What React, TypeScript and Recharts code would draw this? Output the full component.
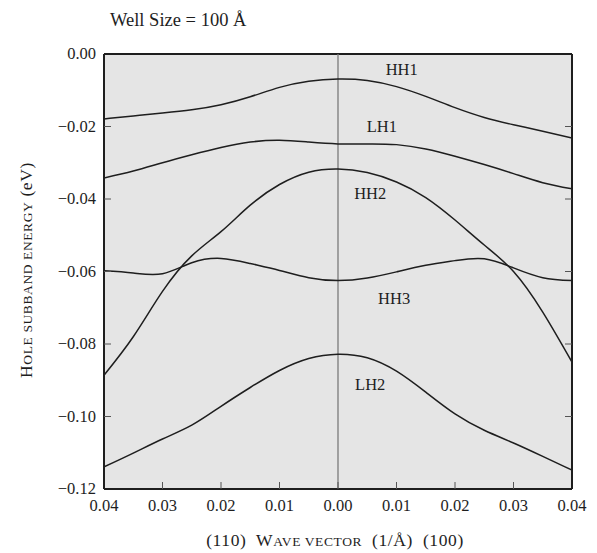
import React from 'react';
import { LineChart, Line, XAxis, YAxis, CartesianGrid, ReferenceLine, ReferenceDot } from 'recharts';

// Wave vector grid (1/Å); negative side = (110) direction, positive side = (100) direction
const kValues = [-0.04, -0.035, -0.03, -0.025, -0.02, -0.015, -0.01, -0.005, 0, 0.005, 0.01, 0.015, 0.02, 0.025, 0.03, 0.035, 0.04];

// Hole subband energies (eV)
const hh1 = [-0.0179, -0.0171, -0.0163, -0.0154, -0.0140, -0.0118, -0.0092, -0.0075, -0.0069, -0.0073, -0.0090, -0.0117, -0.0148, -0.0175, -0.0195, -0.0213, -0.0232];
const lh1 = [-0.0342, -0.0323, -0.0300, -0.0278, -0.0258, -0.0243, -0.0238, -0.0243, -0.0248, -0.0248, -0.0250, -0.0262, -0.0282, -0.0305, -0.0330, -0.0355, -0.0372];
const hh2 = [-0.0886, -0.0780, -0.0655, -0.0557, -0.0490, -0.0417, -0.0360, -0.0326, -0.0317, -0.0327, -0.0353, -0.0396, -0.0458, -0.0527, -0.0600, -0.0712, -0.0850];
const hh3 = [-0.0598, -0.0604, -0.0606, -0.0576, -0.0564, -0.0578, -0.0597, -0.0617, -0.0625, -0.0618, -0.0601, -0.0583, -0.0570, -0.0565, -0.0590, -0.0617, -0.0625];
const lh2 = [-0.1139, -0.1101, -0.1062, -0.1024, -0.0972, -0.0920, -0.0873, -0.0840, -0.0828, -0.0838, -0.0875, -0.0933, -0.0993, -0.1038, -0.1073, -0.1110, -0.1148];

const seriesNames = ['HH1', 'LH1', 'HH2', 'HH3', 'LH2'];
const seriesValues = [hh1, lh1, hh2, hh3, lh2];

// Curve label anchors (k, E)
const labelK = [0.0109, 0.0075, 0.0055, 0.0096, 0.0055];
const labelE = [-0.0041, -0.0199, -0.0383, -0.0673, -0.091];

const xTicks = [-0.04, -0.03, -0.02, -0.01, 0, 0.01, 0.02, 0.03, 0.04];
const yTicks = [-0.12, -0.1, -0.08, -0.06, -0.04, -0.02, 0];

const rows = kValues.map((k, i) => {
  const r: Record<string, number> = { k };
  seriesNames.forEach((n, j) => { r[n] = seriesValues[j][i]; });
  return r;
});

const FONT = "'Liberation Serif', 'Times New Roman', serif";
const INK = '#1e1e1e';

const fmtY = (v: number) => (v === 0 ? '0.00' : '\u2212' + Math.abs(v).toFixed(2));
const fmtX = (v: number) => Math.abs(v).toFixed(2);

const LeftTick = (props: any) => {
  const { x, y, payload } = props;
  const v = payload.value;
  return (
    <g>
      <text x={x} y={y} dy={5} textAnchor="end" fontSize={16.5} fontFamily={FONT} fill={INK}>{fmtY(v)}</text>
      {v > -0.12 && v < 0 && <line x1={x + 8} x2={x + 15} y1={y} y2={y} stroke="#555" strokeWidth={1} />}
    </g>
  );
};

const RightTick = (props: any) => {
  const { x, y, payload } = props;
  const v = payload.value;
  if (!(v > -0.12 && v < 0)) return <g />;
  return <line x1={x} x2={x - 7} y1={y} y2={y} stroke="#555" strokeWidth={1} />;
};

const BottomTick = (props: any) => {
  const { x, y, payload } = props;
  const v = payload.value;
  return (
    <g>
      <text x={x} y={y} dy={12} textAnchor="middle" fontSize={16.5} fontFamily={FONT} fill={INK}>{fmtX(v)}</text>
      {v > -0.04 && v < 0.04 && <line x1={x} x2={x} y1={y - 10} y2={y - 17} stroke="#555" strokeWidth={1} />}
    </g>
  );
};

const CurveLabel = (text: string) => (props: any) => {
  const { viewBox } = props;
  const cx = viewBox.x + (viewBox.width || 0) / 2;
  const cy = viewBox.y + (viewBox.height || 0) / 2;
  return (
    <text x={cx} y={cy} dy={6} textAnchor="middle" fontSize={16.5} fontFamily={FONT} fill={INK}>{text}</text>
  );
};

export default function App() {
  return (
    <div style={{ position: 'absolute', left: 0, top: 0, width: 597, height: 553, background: '#fff' }}>
      <LineChart width={597} height={553} data={rows} margin={{ top: 54, right: 20, bottom: 34, left: 44 }}>
        <CartesianGrid fill="#e5e5e5" stroke="none" horizontal={false} vertical={false} />
        <XAxis
          dataKey="k"
          type="number"
          domain={[-0.04, 0.04]}
          ticks={xTicks}
          interval={0}
          allowDataOverflow
          height={30}
          tickSize={0}
          tickMargin={10}
          tickLine={false}
          axisLine={{ stroke: INK, strokeWidth: 2 }}
          tick={<BottomTick />}
        />
        <YAxis
          yAxisId="left"
          type="number"
          domain={[-0.12, 0]}
          ticks={yTicks}
          interval={0}
          allowDataOverflow
          width={60}
          tickSize={0}
          tickMargin={8}
          tickLine={false}
          axisLine={{ stroke: INK, strokeWidth: 2 }}
          tick={<LeftTick />}
        />
        <YAxis
          yAxisId="right"
          orientation="right"
          type="number"
          domain={[-0.12, 0]}
          ticks={yTicks}
          interval={0}
          allowDataOverflow
          width={5}
          tickSize={0}
          tickMargin={0}
          tickLine={false}
          axisLine={{ stroke: INK, strokeWidth: 2 }}
          tick={<RightTick />}
        />
        <ReferenceLine yAxisId="left" y={0} stroke={INK} strokeWidth={2} />
        <ReferenceLine yAxisId="left" x={0} stroke="#7a7a7a" strokeWidth={1.3} />
        {seriesNames.map((n) => (
          <Line
            key={n}
            yAxisId="left"
            dataKey={n}
            type="natural"
            stroke={INK}
            strokeWidth={1.5}
            dot={false}
            activeDot={false}
            isAnimationActive={false}
          />
        ))}
        {seriesNames.map((n, i) => (
          <ReferenceDot
            key={'lbl' + n}
            yAxisId="left"
            x={labelK[i]}
            y={labelE[i]}
            r={0}
            fill="none"
            stroke="none"
            label={{ content: CurveLabel(n) } as any}
          />
        ))}
      </LineChart>
      <svg width={597} height={553} style={{ position: 'absolute', left: 0, top: 0, pointerEvents: 'none' }}>
        <text x={110} y={26} fontSize={18.5} fontFamily={FONT} fill={INK}>Well Size = 100 Å</text>
        <text x={335} y={546} textAnchor="middle" fontFamily={FONT} fill={INK} fontSize={17.5} letterSpacing={0.6} xmlSpace="preserve">
          <tspan>(110)  W</tspan>
          <tspan fontSize={13.5}>AVE VECTOR</tspan>
          <tspan>  (1/Å)  (100)</tspan>
        </text>
        <text transform="translate(32,270) rotate(-90)" textAnchor="middle" fontFamily={FONT} fill={INK} fontSize={17.5} letterSpacing={0.6}>
          <tspan>H</tspan>
          <tspan fontSize={13.5}>OLE SUBBAND ENERGY</tspan>
          <tspan> (eV)</tspan>
        </text>
      </svg>
    </div>
  );
}
